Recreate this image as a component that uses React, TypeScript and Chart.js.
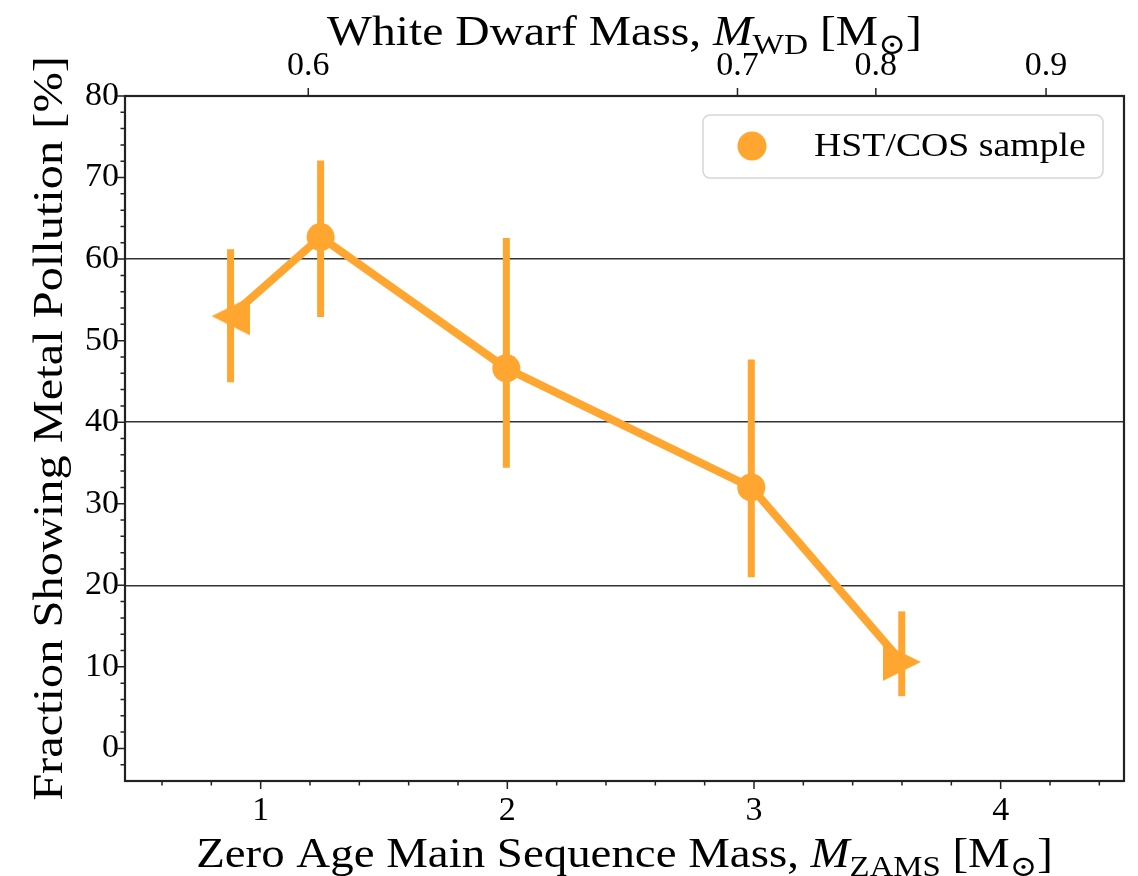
import React, { useEffect, useRef } from 'react';
import { Chart, registerables } from 'chart.js';

Chart.register(...registerables);

// ---- data ----
const zamsMass = [0.878, 1.243, 1.996, 2.989, 3.599];
const pollutionFraction = [53.0, 62.7, 46.6, 32.0, 10.6];
const errLow = [44.9, 52.9, 34.4, 21.0, 6.4];
const errHigh = [61.2, 72.1, 62.6, 47.7, 16.8];
const markerKinds = ['left', 'circle', 'circle', 'circle', 'right'];

const xTicks = [1, 2, 3, 4];
const yTicks = [0, 10, 20, 30, 40, 50, 60, 70, 80];
const gridLevels = [20, 40, 60];
const wdTickPositions = [1.193, 2.933, 3.494, 4.184];
const wdTickLabels = ['0.6', '0.7', '0.8', '0.9'];

const seriesLabel = 'HST/COS sample';

type Run = { t: string; it?: boolean; sub?: boolean };
const xTitleRuns: Run[] = [
  { t: 'Zero Age Main Sequence Mass, ' },
  { t: 'M', it: true },
  { t: 'ZAMS', sub: true },
  { t: ' [M' },
  { t: '⊙', sub: true },
  { t: ']' },
];
const topTitleRuns: Run[] = [
  { t: 'White Dwarf Mass, ' },
  { t: 'M', it: true },
  { t: 'WD', sub: true },
  { t: ' [M' },
  { t: '⊙', sub: true },
  { t: ']' },
];
const yTitleRuns: Run[] = [{ t: 'Fraction Showing Metal Pollution [%]' }];

// ---- style ----
const ORANGE = '#FFA630';
const FAMILY = '"Liberation Serif", "DejaVu Serif", serif';
const TICK_FONT = 34;
const STRETCH = 1.13;
const X_MIN = 0.45;
const X_MAX = 4.5;
const Y_MIN = -4;
const Y_MAX = 80;

function runFont(r: Run, size: number) {
  const s = r.sub ? size * 0.7 : size;
  return `${r.it ? 'italic ' : ''}${s}px ${FAMILY}`;
}
function measureRuns(ctx: CanvasRenderingContext2D, runs: Run[], size: number) {
  let w = 0;
  for (const r of runs) {
    ctx.font = runFont(r, size);
    w += ctx.measureText(r.t).width;
  }
  return w * STRETCH;
}
function drawRuns(ctx: CanvasRenderingContext2D, runs: Run[], size: number, x: number, y: number) {
  ctx.save();
  ctx.translate(x, y);
  ctx.scale(STRETCH, 1);
  let cx = 0;
  ctx.textAlign = 'left';
  ctx.textBaseline = 'alphabetic';
  for (const r of runs) {
    ctx.font = runFont(r, size);
    ctx.fillText(r.t, cx, r.sub ? size * 0.22 : 0);
    cx += ctx.measureText(r.t).width;
  }
  ctx.restore();
}
function fitSize(ctx: CanvasRenderingContext2D, runs: Run[], target: number) {
  return (100 * target) / measureRuns(ctx, runs, 100);
}

function makeTriangle(dir: string, size: number) {
  const c = document.createElement('canvas');
  c.width = size;
  c.height = size;
  const g = c.getContext('2d')!;
  g.fillStyle = ORANGE;
  g.beginPath();
  if (dir === 'left') {
    g.moveTo(0, size / 2);
    g.lineTo(size, 0);
    g.lineTo(size, size);
  } else {
    g.moveTo(size, size / 2);
    g.lineTo(0, 0);
    g.lineTo(0, size);
  }
  g.closePath();
  g.fill();
  return c;
}

const errorBarPlugin = {
  id: 'errorBars',
  beforeDatasetsDraw(chart: any) {
    const { ctx, scales } = chart;
    ctx.save();
    ctx.strokeStyle = ORANGE;
    ctx.lineWidth = 7;
    ctx.lineCap = 'butt';
    zamsMass.forEach((m, i) => {
      const x = scales.x.getPixelForValue(m);
      ctx.beginPath();
      ctx.moveTo(x, scales.y.getPixelForValue(errLow[i]));
      ctx.lineTo(x, scales.y.getPixelForValue(errHigh[i]));
      ctx.stroke();
    });
    ctx.restore();
  },
};

const framePlugin = {
  id: 'frameTicksTitles',
  afterDatasetsDraw(chart: any) {
    const { ctx, chartArea: a, scales } = chart;
    ctx.save();
    // legend
    const lw = 400, lh = 63;
    const lx = a.right - 21 - lw, ly = a.top + 19;
    ctx.beginPath();
    ctx.roundRect(lx, ly, lw, lh, 7);
    ctx.fillStyle = 'rgba(255,255,255,0.85)';
    ctx.fill();
    ctx.strokeStyle = '#d6d6d6';
    ctx.lineWidth = 1.5;
    ctx.stroke();
    ctx.fillStyle = ORANGE;
    ctx.beginPath();
    ctx.arc(lx + 49, ly + 31, 14.5, 0, Math.PI * 2);
    ctx.fill();
    ctx.fillStyle = '#000';
    const legRuns = [{ t: seriesLabel }];
    const ls = fitSize(ctx, legRuns, 272);
    drawRuns(ctx, legRuns, ls, lx + 111, ly + 41);

    // frame
    ctx.strokeStyle = '#222';
    ctx.lineWidth = 2.2;
    ctx.strokeRect(a.left, a.top, a.right - a.left, a.bottom - a.top);

    // ticks
    ctx.lineWidth = 1.5;
    ctx.beginPath();
    for (const v of yTicks) {
      const y = scales.y.getPixelForValue(v);
      ctx.moveTo(a.left - 8, y);
      ctx.lineTo(a.left, y);
    }
    for (let v = Y_MIN + 2; v < Y_MAX; v += 2) {
      if (v % 10 === 0) continue;
      const y = scales.y.getPixelForValue(v);
      ctx.moveTo(a.left - 4.5, y);
      ctx.lineTo(a.left, y);
    }
    for (const v of xTicks) {
      const x = scales.x.getPixelForValue(v);
      ctx.moveTo(x, a.bottom);
      ctx.lineTo(x, a.bottom + 8);
    }
    for (let k = 3; k <= 22; k++) {
      const v = k * 0.2;
      if (Math.abs(v - Math.round(v)) < 1e-6) continue;
      const x = scales.x.getPixelForValue(v);
      ctx.moveTo(x, a.bottom);
      ctx.lineTo(x, a.bottom + 4.5);
    }
    for (const v of wdTickPositions) {
      const x = scales.x2.getPixelForValue(v);
      ctx.moveTo(x, a.top);
      ctx.lineTo(x, a.top - 8);
    }
    ctx.stroke();

    // titles
    ctx.fillStyle = '#000';
    const cx = (a.left + a.right) / 2;
    const xs = fitSize(ctx, xTitleRuns, 857);
    drawRuns(ctx, xTitleRuns, xs, cx - measureRuns(ctx, xTitleRuns, xs) / 2, 867);
    const ts = fitSize(ctx, topTitleRuns, 595);
    drawRuns(ctx, topTitleRuns, ts, cx - measureRuns(ctx, topTitleRuns, ts) / 2, 45);
    const ys = fitSize(ctx, yTitleRuns, 745);
    const cy = (a.top + a.bottom) / 2 - 10;
    ctx.translate(62, cy);
    ctx.rotate(-Math.PI / 2);
    drawRuns(ctx, yTitleRuns, ys, -measureRuns(ctx, yTitleRuns, ys) / 2, 0);
    ctx.restore();
  },
};

export default function App() {
  const ref = useRef<HTMLCanvasElement | null>(null);
  useEffect(() => {
    if (!ref.current) return;
    const styles = markerKinds.map((k) => (k === 'circle' ? 'circle' : makeTriangle(k, 38)));
    const tickFont = { family: FAMILY, size: TICK_FONT };
    const chart = new Chart(ref.current, {
      type: 'line',
      data: {
        datasets: [
          {
            label: seriesLabel,
            data: zamsMass.map((m, i) => ({ x: m, y: pollutionFraction[i] })),
            borderColor: ORANGE,
            backgroundColor: ORANGE,
            borderWidth: 8,
            borderJoinStyle: 'round',
            pointStyle: styles as any,
            pointRadius: 14,
            pointBackgroundColor: ORANGE,
            pointBorderWidth: 0,
            tension: 0,
          },
        ],
      },
      options: {
        animation: false,
        responsive: true,
        maintainAspectRatio: false,
        events: [],
        layout: { padding: { left: 0, right: 10, top: 0, bottom: 0 } },
        plugins: { legend: { display: false }, tooltip: { enabled: false } },
        scales: {
          x: {
            type: 'linear',
            position: 'bottom',
            min: X_MIN,
            max: X_MAX,
            grid: { display: false },
            border: { display: false },
            afterBuildTicks: (s: any) => {
              s.ticks = xTicks.map((v) => ({ value: v }));
            },
            afterFit: (s: any) => {
              s.height = 95;
            },
            ticks: { font: tickFont, color: '#000', padding: 2, maxRotation: 0, callback: (v: any) => String(v) },
          },
          x2: {
            type: 'linear',
            position: 'top',
            min: X_MIN,
            max: X_MAX,
            grid: { display: false },
            border: { display: false },
            afterBuildTicks: (s: any) => {
              s.ticks = wdTickPositions.map((v) => ({ value: v }));
            },
            afterFit: (s: any) => {
              s.height = 96;
            },
            ticks: {
              font: tickFont,
              color: '#000',
              padding: 2,
              maxRotation: 0,
              autoSkip: false,
              callback: (_v: any, i: number) => wdTickLabels[i],
            },
          },
          y: {
            type: 'linear',
            min: Y_MIN,
            max: Y_MAX,
            border: { display: false },
            grid: {
              drawTicks: false,
              lineWidth: 1.5,
              color: (c: any) => (gridLevels.includes(c.tick?.value) ? '#333' : 'rgba(0,0,0,0)'),
            },
            afterBuildTicks: (s: any) => {
              s.ticks = yTicks.map((v) => ({ value: v }));
            },
            afterFit: (s: any) => {
              s.width = 125;
            },
            ticks: { font: tickFont, color: '#000', padding: 6, callback: (v: any) => String(v) },
          },
        },
      },
      plugins: [errorBarPlugin, framePlugin],
    });
    return () => chart.destroy();
  }, []);
  return (
    <div style={{ position: 'fixed', left: 0, top: 0, width: 1138, height: 876, background: '#fff' }}>
      <canvas ref={ref} />
    </div>
  );
}
